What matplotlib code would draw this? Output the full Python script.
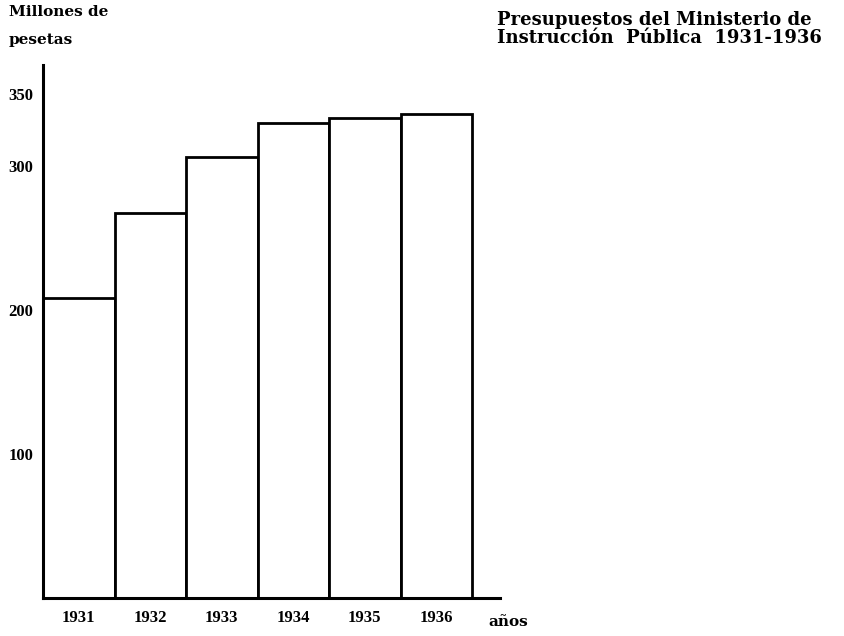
import numpy as np
import matplotlib
matplotlib.use("Agg")
import matplotlib.pyplot as plt

## budget of the Ministerio de Instruccion Publica, millions of pesetas
years = ["1931", "1932", "1933", "1934", "1935", "1936"]
budget = [208, 267, 306, 330, 333, 336]
ytick_vals = [100, 200, 300, 350]

plt.rcParams["font.family"] = ["Liberation Serif", "DejaVu Serif"]

fig = plt.figure(figsize=(8.44, 6.36), dpi=100)
W, H = 844, 636
ax = fig.add_axes([43 / W, 38 / H, (500 - 43) / W, (598 - 65) / H])

x = np.arange(len(years))
ax.bar(x, budget, width=1.0, align="edge", color="white", edgecolor="black", linewidth=2)

ax.set_xlim(0, (500 - 43) / 71.5)
ax.set_ylim(0, 370)

for s in ["top", "right"]:
    ax.spines[s].set_visible(False)
for s in ["left", "bottom"]:
    ax.spines[s].set_linewidth(2.2)

ax.set_yticks(ytick_vals)
ax.set_yticklabels([str(v) for v in ytick_vals], fontsize=12, fontweight="bold")
ax.set_xticks(x + 0.5)
ax.set_xticklabels(years, fontsize=12, fontweight="bold")
ax.tick_params(axis="both", length=0)
ax.tick_params(axis="y", pad=7)
ax.tick_params(axis="x", pad=9)

# axis captions
cap = dict(fontsize=11, fontweight="bold", va="center", ha="left", family="DejaVu Serif")
fig.text(9 / W, 1 - 12 / H, "Millones de", **cap)
fig.text(9 / W, 1 - 40 / H, "pesetas", **cap)
fig.text(488 / W, 1 - 622 / H, "años", **cap)

# title block on the right
ttl = dict(fontsize=13, fontweight="bold", va="center", ha="left", family="DejaVu Serif")
fig.text(497 / W, 1 - 20 / H, "Presupuestos del Ministerio de", **ttl)
fig.text(497 / W, 1 - 38 / H, "Instrucción  Pública  1931-1936", **ttl)

fig.savefig("out.png", dpi=100)
